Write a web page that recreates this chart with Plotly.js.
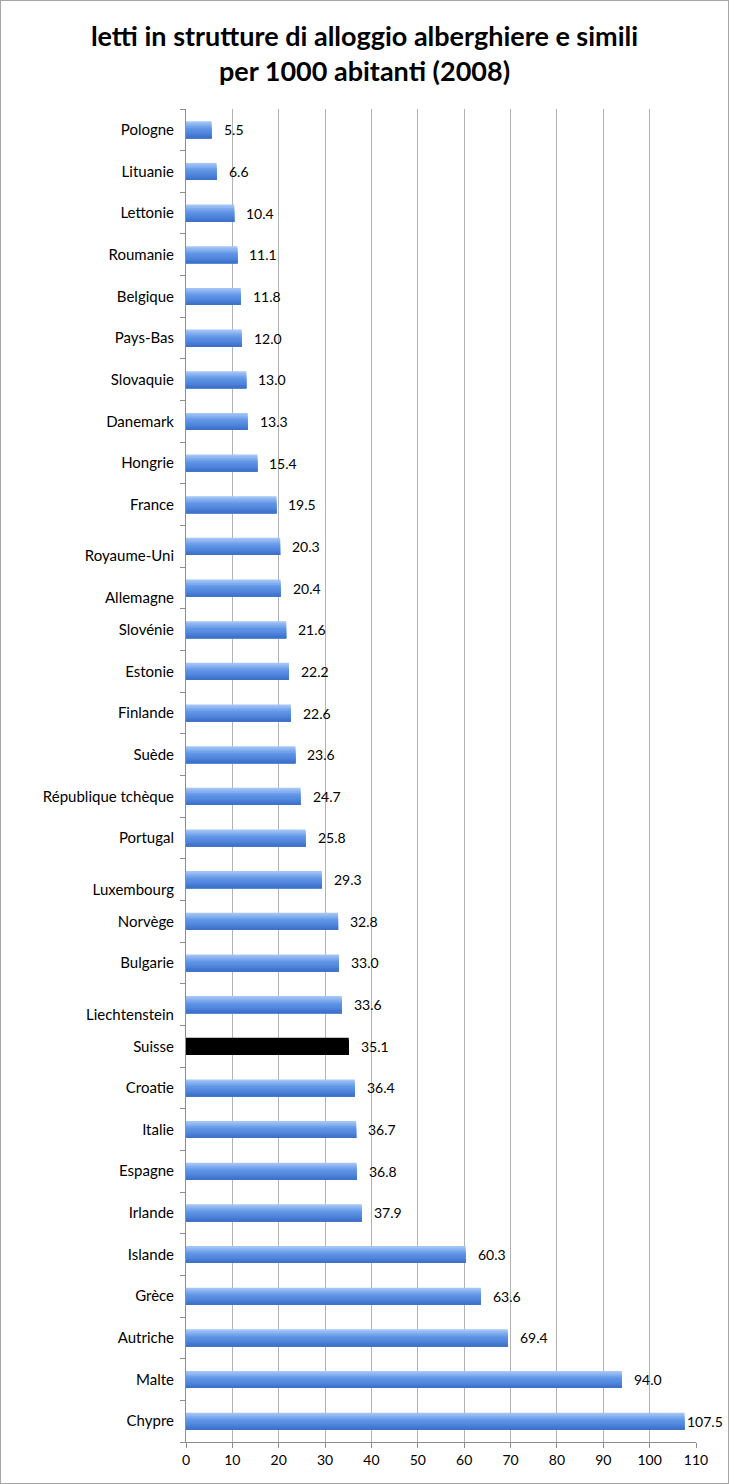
<!DOCTYPE html>
<html><head><meta charset="utf-8">
<script src="https://cdn.plot.ly/plotly-3.0.1.min.js"></script>
<style>
html,body{margin:0;padding:0;background:#fff;}
#wrap{position:relative;width:729px;height:1484px;}
#chart{width:729px;height:1484px;}
#frame{position:absolute;left:0;top:0;width:727px;height:1482px;border:1px solid #a6a6a6;pointer-events:none;}
</style></head>
<body><div id="wrap"><div id="chart"></div><div id="frame"></div></div>
<script>
const categories = ["Pologne","Lituanie","Lettonie","Roumanie","Belgique","Pays-Bas","Slovaquie","Danemark","Hongrie","France","Royaume-Uni","Allemagne","Slovénie","Estonie","Finlande","Suède","République tchèque","Portugal","Luxembourg","Norvège","Bulgarie","Liechtenstein","Suisse","Croatie","Italie","Espagne","Irlande","Islande","Grèce","Autriche","Malte","Chypre"];
const values = [5.5,6.6,10.4,11.1,11.8,12.0,13.0,13.3,15.4,19.5,20.3,20.4,21.6,22.2,22.6,23.6,24.7,25.8,29.3,32.8,33.0,33.6,35.1,36.4,36.7,36.8,37.9,60.3,63.6,69.4,94.0,107.5];
const lowLabels = ["Royaume-Uni","Allemagne","Luxembourg","Liechtenstein"];
const highlighted = "Suisse";
const xTicks = [0,10,20,30,40,50,60,70,80,90,100,110];

const F = "Lato, 'Open Sans', sans-serif";
const ticktext = categories.map(c => lowLabels.includes(c) ? "<br>" + c : c);
function cols(blue){ return categories.map(c => c === highlighted ? "#000000" : blue); }

const W = 0.41;
const bandColors = ["#a3c4f6","#92b8f2","#80acee","#6e9fea","#6094e5","#5a8ee2","#5389de","#4c82d9","#4579d1","#3f71c8"];
const bw = W / bandColors.length;
const traces = bandColors.map((c,k) => ({
  type:"bar", orientation:"h", x:values, y:categories,
  width:categories.map(()=>W - k*bw), offset:categories.map(()=>-W/2 + k*bw),
  marker:{color:cols(c), line:{width:0}}, hoverinfo:"skip", showlegend:false
}));

const annotations = values.map((v,i)=>({
  x:v, y:categories[i], xref:"x", yref:"y", text:v.toFixed(1),
  showarrow:false, xanchor:"left", yanchor:"middle",
  xshift: v > 105 ? 1 : 10,
  font:{family:F, size:14, color:"#000"}
}));

const layout = {
  width:729, height:1484,
  margin:{l:186, r:33, t:109, b:42},
  paper_bgcolor:"#fff", plot_bgcolor:"#fff",
  barmode:"overlay",
  title:{text:"letti in strutture di alloggio alberghiere e simili<br>per 1000 abitanti (2008)",
    font:{family:F, size:27, color:"#000", weight:"bold"}, x:0.5, xanchor:"center",
    y:1 - 46/1484, yref:"container", yanchor:"middle"},
  xaxis:{range:[0,110], tickvals:xTicks, ticktext:xTicks.map(String),
    showgrid:true, gridcolor:"#b3b3b3", gridwidth:1, zeroline:false,
    showline:true, linecolor:"#8c8c8c", linewidth:1,
    ticks:"outside", ticklen:5, tickcolor:"#8c8c8c",
    tickfont:{family:F, size:14, color:"#000"}, fixedrange:true},
  yaxis:{type:"category", autorange:"reversed", tickvals:categories, ticktext:ticktext,
    showline:true, linecolor:"#8c8c8c", linewidth:1, showgrid:false,
    ticks:"outside", ticklen:5, tickcolor:"#8c8c8c", tickson:"boundaries",
    ticklabelstandoff:8,
    tickfont:{family:F, size:15, color:"#000"}, fixedrange:true},
  annotations:annotations
};
Plotly.newPlot("chart", traces, layout, {staticPlot:true});
</script></body></html>
